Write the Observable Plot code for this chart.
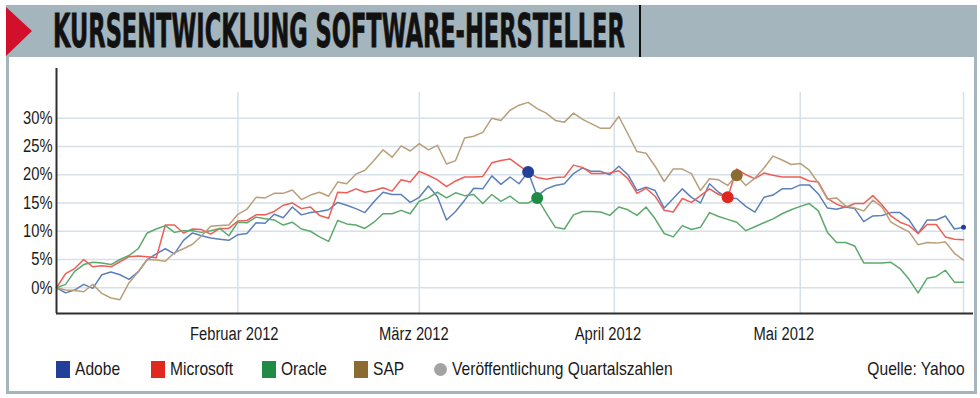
<!DOCTYPE html>
<html>
<head>
<meta charset="utf-8">
<script src="https://cdn.jsdelivr.net/npm/d3@7"></script>
<script src="https://cdn.jsdelivr.net/npm/@observablehq/plot@0.6"></script>
<style>
  html, body { margin: 0; padding: 0; background: #fff; }
  #wrap { position: relative; width: 980px; height: 398px; overflow: hidden; background: #fff;
          font-family: 'Liberation Sans', Arial, sans-serif; color: #1a1a1a; }
  #band { position: absolute; left: 6px; top: 5px; width: 971px; height: 52px; background: #a5b5be; }
  #panel { position: absolute; left: 6px; top: 57px; width: 965px; height: 334px; border: 3px solid #a5b5be; border-top: none; background: #fff; }
  #head { position: absolute; left: 0; top: 0; }
  #chart { position: absolute; left: 0; top: 58px; }
  .leg { position: absolute; top: 358px; height: 22px; display: flex; align-items: center; font-size: 19px; white-space: nowrap; }
  .leg span { display: inline-block; transform: scaleX(0.82); transform-origin: 0 50%; }
  .leg.right span { transform-origin: 100% 50%; }
  .sw { width: 14px; height: 17px; margin-right: 5px; flex: none; }
  .ci { width: 13px; height: 13px; border-radius: 50%; background: #a3a3a3; margin-right: 5px; flex: none; }
</style>
</head>
<body>
<div id="wrap">
  <div id="band"></div>
  <div id="panel"></div>
  <svg id="head" width="980" height="60">
    <polygon points="6,7 32,31 6,56" fill="#d3102c"></polygon>
    <text id="title" x="0" y="0" font-family="'DejaVu Sans','Liberation Sans',sans-serif" font-weight="bold" font-size="46" fill="#111" stroke="#111" stroke-width="0.8">KURSENTWICKLUNG SOFTWARE-HERSTELLER</text>
    <line x1="640" y1="5" x2="640" y2="57" stroke="#111" stroke-width="2"></line>
  </svg>
  <div id="chart"></div>
  <div id="legend"></div>
</div>
<script>
// ---- data (percent change since start, per trading day) ----
const series = ["Adobe", "Microsoft", "Oracle", "SAP"];
const adobe = [0,-0.9,-0.4,0.6,-0.1,2.3,2.8,2.3,1.5,2.8,5.0,6.0,6.9,6.0,8.4,9.7,9.2,8.8,8.6,8.4,
  9.4,9.6,11.5,11.4,13.0,12.4,14.3,12.9,13.3,13.5,13.8,15.1,14.6,14.0,13.3,15.2,16.9,16.5,16.5,15.1,
  16.0,18.0,16.1,12.0,13.5,15.5,17.6,17.5,19.8,18.3,19.6,18.4,20.5,16.2,17.5,18.1,18.4,20.2,21.2,20.6,
  20.6,20.0,21.5,20.0,17.2,17.8,17.2,14.1,15.8,17.5,16.0,15.0,18.4,16.9,15.9,15.8,14.4,13.4,16.0,16.4,
  17.5,17.5,18.2,18.2,16.6,14.1,13.9,14.3,14.0,11.7,12.7,12.8,13.3,13.3,12.0,9.6,12.0,12.0,12.7,10.4,10.7];
const microsoft = [0,2.5,3.4,5.0,3.7,3.9,3.7,4.6,5.5,5.6,5.5,5.3,11.1,11.1,9.7,10.4,10.3,9.5,10.5,10.5,
  11.8,11.9,12.9,12.9,13.5,14.6,15.0,14.0,14.3,12.8,12.3,16.9,16.8,17.5,16.9,17.2,17.7,17.1,19.1,18.7,
  20.6,19.9,19.1,17.9,18.9,19.6,19.6,19.7,22.1,22.5,22.8,21.6,20.5,19.5,19.2,19.5,19.6,21.7,21.3,20.2,
  20.2,20.3,20.7,19.3,16.7,17.6,16.2,13.7,13.4,15.8,15.1,16.3,17.5,16.5,16.0,21.0,20.0,19.3,20.3,19.9,
  19.6,19.6,19.6,18.9,18.7,15.8,14.8,14.2,14.9,14.9,16.3,14.7,12.7,11.6,11.0,9.6,11.2,11.2,9.0,8.6,8.5];
const oracle = [0,0.6,2.9,4.1,4.5,4.4,4.1,5.0,5.7,6.9,9.7,10.4,11.0,9.8,10.1,10.1,9.8,10.1,10.5,9.2,
  11.6,11.5,12.5,12.2,12.0,11.1,11.6,10.4,10.0,9.0,8.2,11.9,11.3,11.1,10.5,11.6,13.1,13.1,13.7,13.1,
  15.3,15.9,16.9,15.9,16.8,16.3,16.5,14.9,16.5,15.3,16.2,15.0,15.0,15.9,13.2,10.7,10.4,12.9,13.5,13.5,
  13.4,12.8,14.3,13.8,12.8,14.3,12.2,9.6,9.0,11.0,10.3,10.7,13.3,12.6,12.1,11.6,10.1,10.8,11.5,12.2,
  13.1,13.8,14.4,14.9,13.6,9.8,8.0,8.0,7.4,4.4,4.4,4.4,4.5,3.4,1.5,-0.9,1.7,2.0,3.1,1.0,1.0];
const sap = [0,-0.4,-0.5,-0.7,0.6,-1.0,-1.8,-2.1,0.9,2.8,5.0,4.9,4.7,6.2,6.9,7.7,9.2,10.9,11.0,11.1,
  13.0,13.9,16.0,15.9,16.7,16.7,17.3,15.6,16.4,16.9,16.2,18.7,18.4,20.1,20.8,22.5,24.4,23.1,25.1,24.2,
  25.5,24.4,25.2,21.9,22.5,26.5,26.8,27.5,30.0,29.6,31.4,32.3,32.8,31.7,30.9,29.6,29.3,30.9,29.8,29.0,
  28.2,28.2,30.3,27.2,24.1,23.8,21.5,18.8,21.0,21.0,20.2,17.2,19.3,19.1,18.1,19.9,18.1,19.4,21.2,23.3,
  22.6,21.8,22.0,20.8,18.5,15.7,15.9,14.5,14.1,13.6,15.5,14.3,11.6,10.7,9.9,7.6,8.0,7.9,8.1,6.1,4.9];
const values = { Adobe: adobe, Microsoft: microsoft, Oracle: oracle, SAP: sap };

// quarterly-results markers: series and trading-day index
const eventSeries = ["Adobe", "Oracle", "Microsoft", "SAP", "Adobe"];
const eventIdx = [52, 53, 74, 75, 100];
const eventSize = [6, 6, 6, 6, 2.5];

const yTicks = [0, 5, 10, 15, 20, 25, 30];
const monthIdx = [20, 40, 61.5, 82, 100];          // month starts (trading-day index) + end
const monthLabels = ["Februar 2012", "März 2012", "April 2012", "Mai 2012"];
const labelPos = [19.6, 39.4, 60.8, 80.2];
const lastIdx = 100;

const lineColors = { Adobe: "#5c80b8", Microsoft: "#ef5d57", Oracle: "#5da96c", SAP: "#b89f7a" };
const keyColors = { Adobe: "#22409a", Microsoft: "#e1281f", Oracle: "#1f8b44", SAP: "#8c6b33" };

const FONT = "'Liberation Sans', Arial, sans-serif";
const yMin = -4.55, yMax = 38.79;

const events = eventSeries.map((s, k) => ({ series: s, i: eventIdx[k], v: values[s][eventIdx[k]], r: eventSize[k] }));

const marks = [
  Plot.ruleY(yTicks, { x1: 0, x2: lastIdx, stroke: "#d6e0e9", strokeWidth: 1.5 }),
  Plot.ruleX(monthIdx, { stroke: "#d6e0e9", strokeWidth: 1.5, insetTop: 24 })
];
series.forEach(s => {
  marks.push(Plot.line(values[s], { x: (d, i) => i, y: d => d, stroke: lineColors[s], strokeWidth: 1.5, curve: "linear" }));
});
events.forEach(e => {
  marks.push(Plot.dot([e], { x: "i", y: "v", r: e.r, fill: keyColors[e.series], stroke: "none" }));
});
marks.push(
  Plot.ruleX([0], { stroke: "#2e2e2e", strokeWidth: 2 }),
  Plot.ruleY([yMin], { stroke: "#2e2e2e", strokeWidth: 2 }),
  Plot.text(yTicks, { x: 0, y: d => d, text: d => d + "%", textAnchor: "end", dx: -4, fontSize: 18, fill: "#1a1a1a", fontFamily: FONT }),
  Plot.text(monthLabels, { x: (d, i) => labelPos[i], y: yMin, dy: 21, text: d => d, fontSize: 18, fill: "#1a1a1a", fontFamily: FONT })
);

const chart = Plot.plot({
  width: 980,
  height: 290,
  marginTop: 10,
  marginBottom: 35,
  marginLeft: 56,
  marginRight: 7,
  x: { domain: [0, lastIdx], range: [56, 963], axis: null },
  y: { domain: [yMin, yMax], axis: null },
  style: { background: "transparent", fontFamily: FONT, overflow: "visible" },
  marks
});
document.getElementById("chart").appendChild(chart);

// condensed type look: shrink each chart text horizontally, keeping its anchor
chart.querySelectorAll("text").forEach(el => {
  const L = el.getComputedTextLength();
  if (L > 0) {
    el.setAttribute("textLength", (L * 0.82).toFixed(1));
    el.setAttribute("lengthAdjust", "spacingAndGlyphs");
  }
});

// title: compress to the band width
const title = document.getElementById("title");
const natural = title.getComputedTextLength();
title.setAttribute("transform", `translate(53,47) scale(${572 / natural},1)`);

// ---- legend ----
const legend = document.getElementById("legend");
const legendX = [56, 151, 262, 354];
series.forEach((s, k) => {
  const d = document.createElement("div");
  d.className = "leg";
  d.style.left = legendX[k] + "px";
  d.innerHTML = `<div class="sw" style="background:${keyColors[s]}"></div><span>${s}</span>`;
  legend.appendChild(d);
});
const ev = document.createElement("div");
ev.className = "leg";
ev.style.left = "434px";
ev.innerHTML = `<div class="ci"></div><span>Veröffentlichung Quartalszahlen</span>`;
legend.appendChild(ev);
const src = document.createElement("div");
src.className = "leg right";
src.style.right = "15px";
src.innerHTML = `<span>Quelle: Yahoo</span>`;
legend.appendChild(src);
</script>
</body>
</html>
